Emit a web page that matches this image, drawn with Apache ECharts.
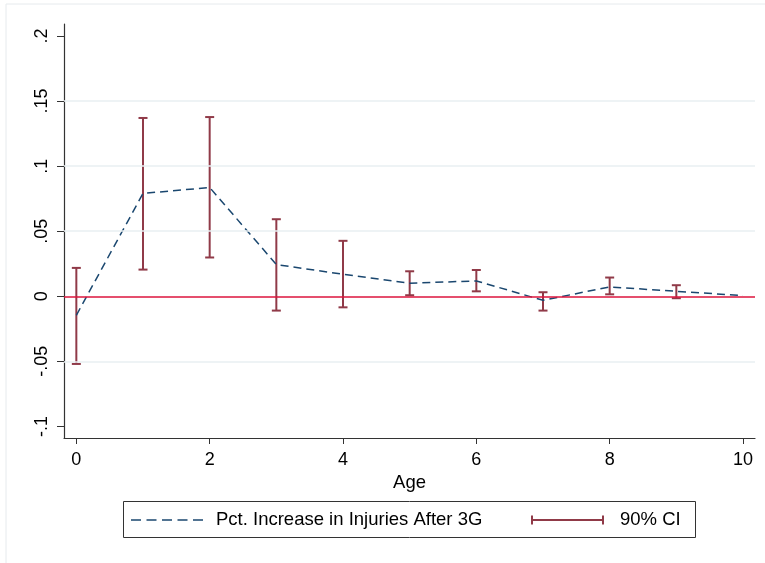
<!DOCTYPE html>
<html>
<head>
<meta charset="utf-8">
<script src="https://cdn.jsdelivr.net/npm/echarts@6/dist/echarts.min.js"></script>
<style>
  html, body { margin: 0; padding: 0; background: #fff; }
  #main { width: 765px; height: 563px; }
</style>
</head>
<body>
<div id="main"></div>
<script>
// ages on the x axis
var ages = [0, 1, 2, 3, 4, 5, 6, 7, 8, 9, 10];
// point estimates (pct. increase in injuries after 3G)
var estimates = [-0.0146, 0.079, 0.0836, 0.0244, 0.0169, 0.0100, 0.0118, -0.0031, 0.0072, 0.0038, 0.0005];
// 90% CI bounds (no CI at age 10)
var ciAges = [0, 1, 2, 3, 4, 5, 6, 7, 8, 9];
var ciLow = [-0.052, 0.0205, 0.0298, -0.011, -0.0085, 0.0008, 0.0038, -0.011, 0.0015, -0.0015];
var ciHigh = [0.0218, 0.137, 0.1377, 0.0592, 0.0426, 0.0192, 0.0202, 0.0031, 0.0144, 0.0085];
// tick values
var xTicks = [0, 2, 4, 6, 8, 10];
var yTicks = [-0.1, -0.05, 0, 0.05, 0.1, 0.15, 0.2];
var yGrid = [-0.05, 0.05, 0.1, 0.15];

var lineColor = '#1a476f';
var ciColor = '#903a48';
var font = 'Liberation Sans, Arial, sans-serif';

function fmtY(v) {
  var s = String(Math.round(v * 100) / 100);
  return s.replace('0.', '.');
}

var chart = echarts.init(document.getElementById('main'));
chart.setOption({
  animation: false,
  backgroundColor: '#fff',
  grid: { left: 64, right: 10, top: 24, bottom: 125 },
  xAxis: {
    type: 'value',
    min: -0.185,
    max: 10.18,
    name: 'Age',
    nameLocation: 'middle',
    nameGap: 33,
    nameTextStyle: { fontFamily: font, fontSize: 18.5, color: '#000' },
    axisLine: { show: true, onZero: false, lineStyle: { color: '#333', width: 1.2 } },
    axisTick: { show: true, length: 6, customValues: xTicks, lineStyle: { color: '#333' } },
    axisLabel: { customValues: xTicks, fontFamily: font, fontSize: 18, color: '#000', margin: 13 },
    splitLine: { show: false }
  },
  yAxis: {
    type: 'value',
    min: -0.1089,
    max: 0.2092,
    axisLine: { show: true, onZero: false, lineStyle: { color: '#333', width: 1.2 } },
    axisTick: { show: true, length: 7, customValues: yTicks, lineStyle: { color: '#333' } },
    axisLabel: {
      customValues: yTicks,
      rotate: 90,
      fontFamily: font, fontSize: 18, color: '#000', margin: 13,
      formatter: fmtY
    },
    splitLine: { show: false }
  },
  graphic: [
    { type: 'rect', shape: { x: 6, y: 4, width: 770, height: 570 },
      style: { fill: 'none', stroke: '#e6eaed', lineWidth: 1 }, z: -1 },
    { type: 'rect', shape: { x: 123.5, y: 501.5, width: 572, height: 36 },
      style: { fill: '#fff', stroke: '#333', lineWidth: 1 } },
    { type: 'line', shape: { x1: 131, y1: 520, x2: 204, y2: 520 },
      style: { stroke: lineColor, lineWidth: 1.5, lineDash: [10, 5.5] } },
    { type: 'text', x: 216, y: 520,
      style: { text: 'Pct. Increase in Injuries After 3G', font: '18.5px ' + font, fill: '#000', textVerticalAlign: 'middle' } },
    { type: 'line', shape: { x1: 531, y1: 520, x2: 604, y2: 520 },
      style: { stroke: ciColor, lineWidth: 2 } },
    { type: 'line', shape: { x1: 532, y1: 515.5, x2: 532, y2: 524.5 },
      style: { stroke: ciColor, lineWidth: 2 } },
    { type: 'line', shape: { x1: 603, y1: 515.5, x2: 603, y2: 524.5 },
      style: { stroke: ciColor, lineWidth: 2 } },
    { type: 'text', x: 620, y: 520,
      style: { text: '90% CI', font: '18.5px ' + font, fill: '#000', textVerticalAlign: 'middle' } }
  ],
  series: [
    {
      type: 'line',
      data: yGrid.map(function (v) { return [0, v]; }),
      symbol: 'none',
      lineStyle: { opacity: 0 },
      silent: true,
      markLine: {
        symbol: 'none',
        silent: true,
        label: { show: false },
        lineStyle: { color: '#e8eff2', type: 'solid', width: 1.5 },
        data: yGrid.map(function (v) { return { yAxis: v }; })
      },
      z: 1
    },
    {
      type: 'custom',
      z: 3,
      renderItem: function (params, api) {
        var x = api.value(0);
        var lo = api.coord([x, api.value(1)]);
        var hi = api.coord([x, api.value(2)]);
        var w = 4.5;
        var st = { stroke: ciColor, lineWidth: 2 };
        return {
          type: 'group',
          children: [
            { type: 'line', shape: { x1: lo[0], y1: lo[1], x2: hi[0], y2: hi[1] }, style: st },
            { type: 'line', shape: { x1: lo[0] - w, y1: lo[1], x2: lo[0] + w, y2: lo[1] }, style: st },
            { type: 'line', shape: { x1: hi[0] - w, y1: hi[1], x2: hi[0] + w, y2: hi[1] }, style: st }
          ]
        };
      },
      data: ciAges.map(function (a, i) { return [a, ciLow[i], ciHigh[i]]; })
    },
    {
      type: 'line',
      z: 4,
      symbol: 'none',
      data: ages.map(function (a, i) { return [a, estimates[i]]; }),
      lineStyle: { color: lineColor, width: 1.5, type: [8, 5] },
      markLine: {
        symbol: 'none',
        silent: true,
        label: { show: false },
        lineStyle: { color: '#dc143c', type: 'solid', width: 1.5 },
        data: [{ yAxis: 0 }]
      }
    }
  ]
});
</script>
</body>
</html>
